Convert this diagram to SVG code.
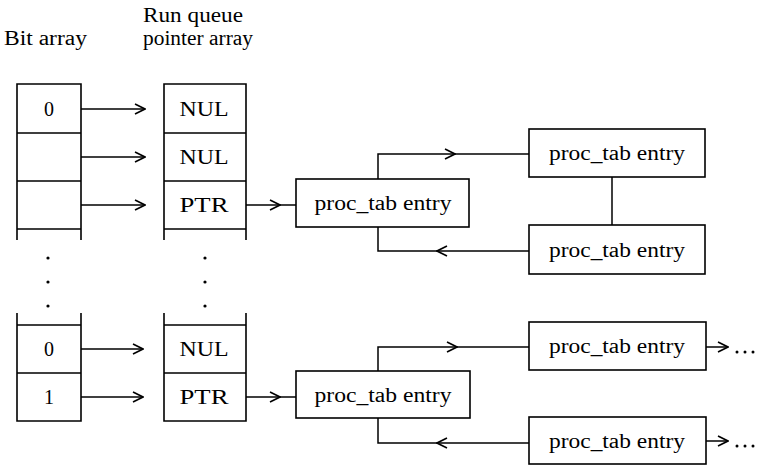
<svg xmlns="http://www.w3.org/2000/svg" width="758" height="466" viewBox="0 0 758 466">
<defs>
<marker id="ah" viewBox="0 0 12 12" refX="11" refY="6" markerWidth="12" markerHeight="12" markerUnits="userSpaceOnUse" orient="auto">
<path d="M1,1 L11,6 L1,11" fill="none" stroke="#000" stroke-width="1.6"/>
</marker>
<marker id="am" viewBox="0 0 12 12" refX="6" refY="6" markerWidth="12" markerHeight="12" markerUnits="userSpaceOnUse" orient="auto">
<path d="M1,1 L11,6 L1,11" fill="none" stroke="#000" stroke-width="1.6"/>
</marker>
</defs>
<style>
text{font-family:"Liberation Serif","DejaVu Serif",serif;font-size:20px;fill:#000}
.c{text-anchor:middle}
.b{fill:none;stroke:#000;stroke-width:1.6}
.l{fill:none;stroke:#000;stroke-width:1.5}
.d{fill:#000}
</style>
<rect width="758" height="466" fill="#fff"/>
<g id="labels">
<text x="4" y="45" textLength="83" lengthAdjust="spacingAndGlyphs">Bit array</text>
<text x="143" y="22" textLength="100" lengthAdjust="spacingAndGlyphs">Run queue</text>
<text x="143" y="45" textLength="110" lengthAdjust="spacingAndGlyphs">pointer array</text>
</g>
<g id="bit-array-top">
<path class="b" d="M17,240 V84 H81 V240 M17,133 H81 M17,181 H81 M17,229 H81"/>
<text class="c" x="49" y="116">0</text>
</g>
<g id="bit-array-dots">
<circle class="d" cx="48" cy="258" r="1.6"/>
<circle class="d" cx="48" cy="282" r="1.6"/>
<circle class="d" cx="48" cy="306" r="1.6"/>
</g>
<g id="bit-array-bottom">
<path class="b" d="M17,313 V421 H81 V313 M17,325 H81 M17,373 H81"/>
<text class="c" x="49" y="356">0</text>
<text class="c" x="49" y="404">1</text>
</g>
<g id="ptr-array-top">
<path class="b" d="M164,240 V84 H246 V240 M164,133 H246 M164,181 H246 M164,229 H246"/>
<text class="c" x="204" y="116" textLength="49" lengthAdjust="spacingAndGlyphs">NUL</text>
<text class="c" x="204" y="164" textLength="49" lengthAdjust="spacingAndGlyphs">NUL</text>
<text class="c" x="204" y="212" textLength="49" lengthAdjust="spacingAndGlyphs">PTR</text>
</g>
<g id="ptr-array-dots">
<circle class="d" cx="205" cy="258" r="1.6"/>
<circle class="d" cx="205" cy="282" r="1.6"/>
<circle class="d" cx="205" cy="306" r="1.6"/>
</g>
<g id="ptr-array-bottom">
<path class="b" d="M164,313 V421 H246 V313 M164,325 H246 M164,373 H246"/>
<text class="c" x="204" y="356" textLength="49" lengthAdjust="spacingAndGlyphs">NUL</text>
<text class="c" x="204" y="404" textLength="49" lengthAdjust="spacingAndGlyphs">PTR</text>
</g>
<g id="proc1">
<rect class="b" x="296" y="179" width="173" height="48"/>
<text class="c" x="383" y="210" textLength="137" lengthAdjust="spacingAndGlyphs">proc_tab entry</text>
</g>
<g id="proc2">
<rect class="b" x="529" y="129" width="176" height="48"/>
<text class="c" x="617" y="160" textLength="136" lengthAdjust="spacingAndGlyphs">proc_tab entry</text>
</g>
<g id="proc3">
<rect class="b" x="529" y="225" width="176" height="49"/>
<text class="c" x="617" y="257" textLength="136" lengthAdjust="spacingAndGlyphs">proc_tab entry</text>
</g>
<g id="proc4">
<rect class="b" x="296" y="371" width="174" height="47"/>
<text class="c" x="383" y="402" textLength="137" lengthAdjust="spacingAndGlyphs">proc_tab entry</text>
</g>
<g id="proc5">
<rect class="b" x="529" y="322" width="177" height="48"/>
<text class="c" x="617" y="353" textLength="136" lengthAdjust="spacingAndGlyphs">proc_tab entry</text>
</g>
<g id="proc6">
<rect class="b" x="529" y="417" width="177" height="47"/>
<text class="c" x="617" y="448" textLength="136" lengthAdjust="spacingAndGlyphs">proc_tab entry</text>
</g>
<g id="connectors">
<path class="l" d="M81,109 H145" marker-end="url(#ah)"/>
<path class="l" d="M81,157 H145" marker-end="url(#ah)"/>
<path class="l" d="M81,205 H145" marker-end="url(#ah)"/>
<path class="l" d="M81,349 H143" marker-end="url(#ah)"/>
<path class="l" d="M81,397 H143" marker-end="url(#ah)"/>
<path class="l" d="M246,205 H280" marker-end="url(#ah)"/>
<path class="l" d="M280,205 H296"/>
<path class="l" d="M246,397 H280" marker-end="url(#ah)"/>
<path class="l" d="M280,397 H296"/>
<path class="l" d="M378,179 V154 H450" marker-end="url(#am)"/>
<path class="l" d="M450,154 H529"/>
<path class="l" d="M529,251 H442" marker-end="url(#am)"/>
<path class="l" d="M442,251 H378 V227"/>
<path class="l" d="M612,177 V225"/>
<path class="l" d="M378,371 V347 H452" marker-end="url(#am)"/>
<path class="l" d="M452,347 H529"/>
<path class="l" d="M529,443 H442" marker-end="url(#am)"/>
<path class="l" d="M442,443 H378 V418"/>
<path class="l" d="M706,347 H728" marker-end="url(#ah)"/>
<path class="l" d="M706,441 H728" marker-end="url(#ah)"/>
</g>
<g id="ellipses">
<circle class="d" cx="737" cy="352" r="1.5"/>
<circle class="d" cx="745" cy="352" r="1.5"/>
<circle class="d" cx="753" cy="352" r="1.5"/>
<circle class="d" cx="737" cy="446" r="1.5"/>
<circle class="d" cx="745" cy="446" r="1.5"/>
<circle class="d" cx="753" cy="446" r="1.5"/>
</g>
</svg>
